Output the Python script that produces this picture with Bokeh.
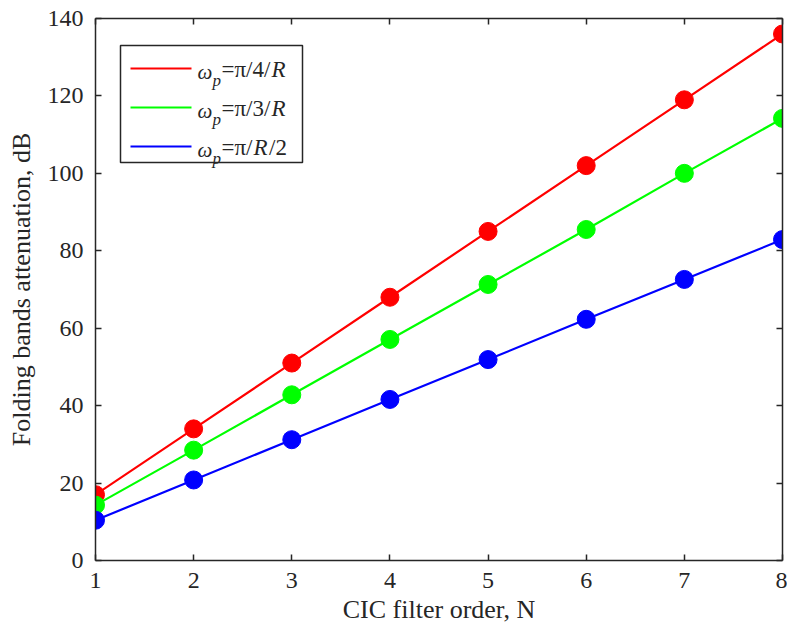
from bokeh.plotting import figure
from bokeh.models import (Range1d, LinearAxis, FixedTicker, Label, BoxAnnotation,
                          PolyAnnotation, CustomLabelingPolicy)
from bokeh.embed import file_html
from bokeh.resources import INLINE

# ---- data ----
filter_order = [1, 2, 3, 4, 5, 6, 7, 8]
att_pi_4R = [17.0, 34.0, 51.0, 68.0, 85.0, 102.0, 119.0, 136.0]
att_pi_3R = [14.3, 28.5, 42.8, 57.1, 71.3, 85.5, 100.0, 114.2]
att_pi_R2 = [10.4, 20.8, 31.2, 41.6, 51.9, 62.3, 72.6, 82.9]
series_rest = ["=π/4/R", "=π/3/R", "=π/R/2"]
series_colors = ["#FF0000", "#00FF00", "#0000FF"]
x_ticks = [1, 2, 3, 4, 5, 6, 7, 8]
y_ticks = [0, 20, 40, 60, 80, 100, 120, 140]
x_label = "CIC filter order, N"
y_label = "Folding bands attenuation, dB"

FONT = "Liberation Serif"
AX = "#262626"

p = figure(width=787, height=635, output_backend="svg", toolbar_location=None,
           x_range=Range1d(1, 8), y_range=Range1d(0, 140),
           min_border_left=95, min_border_right=5, min_border_top=18,
           min_border_bottom=75)
p.background_fill_color = "white"
p.border_fill_color = "white"
p.outline_line_color = None
p.xgrid.visible = False
p.ygrid.visible = False

for s, c in zip([att_pi_4R, att_pi_3R, att_pi_R2], series_colors):
    p.line(filter_order, s, line_color=c, line_width=2.2)
    p.scatter(filter_order, s, size=18, fill_color=c, line_color=c)

hide_labels = CustomLabelingPolicy(code="""
try { for (const i of Array.from(indices)) indices.unset(i) } catch (e) {}
return indices
""")

def style_axis(ax, labels=True):
    ax.axis_line_color = AX
    ax.axis_line_width = 1.5
    ax.major_tick_line_color = AX
    ax.major_tick_line_width = 1.5
    ax.major_tick_in = 6
    ax.major_tick_out = 0
    ax.minor_tick_in = 0
    ax.minor_tick_out = 0
    ax.major_label_text_font = FONT
    ax.major_label_text_color = AX
    ax.axis_label_text_font = FONT
    ax.axis_label_text_color = AX
    ax.axis_label_text_font_style = "normal"
    if labels:
        ax.major_label_text_font_size = "24px"
        ax.axis_label_text_font_size = "26px"
    else:
        ax.major_label_text_font_size = "0px"
        ax.major_label_standoff = 0
        ax.major_label_policy = hide_labels

xa = p.xaxis[0]
ya = p.yaxis[0]
xa.ticker = FixedTicker(ticks=x_ticks)
ya.ticker = FixedTicker(ticks=y_ticks)
style_axis(xa)
style_axis(ya)
xa.axis_label = x_label
ya.axis_label = y_label
xa.major_label_standoff = 12
xa.axis_label_standoff = 4
ya.major_label_standoff = 12
ya.axis_label_standoff = 9

top = LinearAxis(ticker=FixedTicker(ticks=x_ticks))
right = LinearAxis(ticker=FixedTicker(ticks=y_ticks))
style_axis(top, labels=False)
style_axis(right, labels=False)
p.add_layout(top, "above")
p.add_layout(right, "right")

# ---- legend (screen units, frame-relative, y up) ----
p.add_layout(BoxAnnotation(left=25, right=207, top=515, bottom=398,
                           left_units="screen", right_units="screen",
                           top_units="screen", bottom_units="screen",
                           fill_color="white", fill_alpha=1.0,
                           line_color=AX, line_alpha=1.0, line_width=1.5))

W = {"=": 0.564, "π": 0.55, "/": 0.278, "R": 0.611, "2": 0.5, "3": 0.5, "4": 0.5}
LEG_FS = 23
row0 = 492
for i, (txt, c) in enumerate(zip(series_rest, series_colors)):
    ry = row0 - 39 * i
    p.add_layout(PolyAnnotation(xs=[35, 96, 96, 35], ys=[ry, ry, ry, ry],
                                xs_units="screen", ys_units="screen",
                                line_color=c, line_alpha=1.0, line_width=2.2,
                                fill_alpha=0))
    p.add_layout(Label(x=102, y=ry - 3, x_units="screen", y_units="screen",
                       text="ω", text_font=FONT, text_font_style="italic",
                       text_font_size="21px", text_color=AX,
                       text_baseline="alphabetic", text_align="left"))
    p.add_layout(Label(x=117, y=ry - 12, x_units="screen", y_units="screen",
                       text="p", text_font=FONT, text_font_style="italic",
                       text_font_size="17px", text_color=AX,
                       text_baseline="alphabetic", text_align="left"))
    # split into runs: "R" italic, rest upright
    runs = []
    for ch in txt:
        st = "italic" if ch == "R" else "normal"
        if runs and runs[-1][1] == st:
            runs[-1][0] += ch
        else:
            runs.append([ch, st])
    x = 126.0
    for run, st in runs:
        p.add_layout(Label(x=x, y=ry - 1, x_units="screen", y_units="screen",
                           text=run, text_font=FONT, text_font_style=st,
                           text_font_size=f"{LEG_FS}px", text_color=AX,
                           text_baseline="alphabetic", text_align="left"))
        x += sum(W.get(ch, 0.5) for ch in run) * LEG_FS + (1.5 if st == "italic" else 0)

open("out.html", "w").write(file_html(p, INLINE))
